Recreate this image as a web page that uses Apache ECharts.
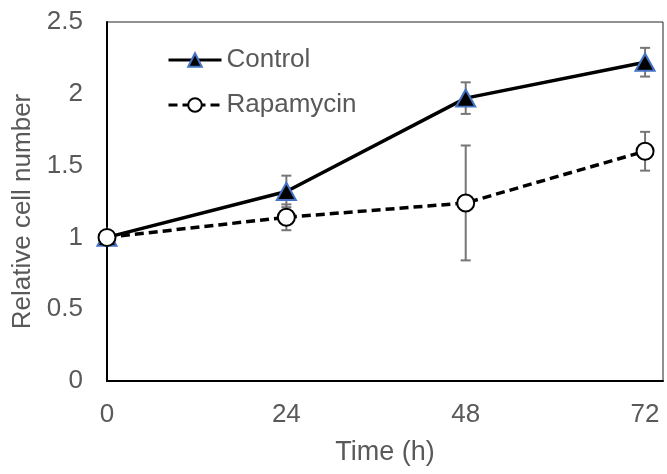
<!DOCTYPE html>
<html>
<head>
<meta charset="utf-8">
<script src="https://cdn.jsdelivr.net/npm/echarts@6/dist/echarts.min.js"></script>
<style>
  html, body { margin: 0; padding: 0; background: #fff; }
  #chart { width: 667px; height: 474px; }
</style>
</head>
<body>
<div id="chart"></div>
<script>
// data
const hours = [0, 24, 48, 72];
const controlMean = [1.0, 1.32, 1.97, 2.22];
const controlErr = [0.0, 0.11, 0.11, 0.1];
const rapaMean = [1.0, 1.14, 1.24, 1.6];
const rapaErr = [0.0, 0.09, 0.4, 0.135];

const gray = '#595959';
const font = 'Liberation Sans, Arial, sans-serif';

const toPairs = (xs, ys) => xs.map((x, i) => [x, ys[i]]);
const toErr = (xs, ys, es) => xs.map((x, i) => [x, ys[i] - es[i], ys[i] + es[i]]);

// 误差线
const errorBars = (data) => ({
  type: 'custom',
  z: 1,
  silent: true,
  data: data,
  renderItem: (params, api) => {
    const lo = api.coord([api.value(0), api.value(1)]);
    const hi = api.coord([api.value(0), api.value(2)]);
    if (Math.abs(hi[1] - lo[1]) < 1) return null;
    const w = 5;
    const style = { stroke: '#767676', lineWidth: 2, fill: null };
    return {
      type: 'group',
      children: [
        { type: 'line', shape: { x1: lo[0], y1: lo[1], x2: hi[0], y2: hi[1] }, style },
        { type: 'line', shape: { x1: lo[0] - w, y1: lo[1], x2: lo[0] + w, y2: lo[1] }, style },
        { type: 'line', shape: { x1: hi[0] - w, y1: hi[1], x2: hi[0] + w, y2: hi[1] }, style }
      ]
    };
  }
});

const chart = echarts.init(document.getElementById('chart'));
chart.setOption({
  animation: false,
  textStyle: { fontFamily: font },
  grid: {
    left: 107, right: 4, top: 22, bottom: 93,
    show: true, borderColor: '#222', borderWidth: 1
  },
  legend: {
    left: 162, top: 42, orient: 'vertical',
    itemWidth: 53, itemHeight: 17, itemGap: 19,
    lineStyle: { width: 3 },
    textStyle: { fontSize: 26, lineHeight: 26, color: gray, fontFamily: font },
    data: ['Control', 'Rapamycin']
  },
  xAxis: {
    type: 'value', min: 0, max: 74.4, interval: 24,
    name: 'Time (h)', nameLocation: 'middle', nameGap: 58,
    nameTextStyle: { fontSize: 27, color: gray },
    axisLine: { lineStyle: { color: '#000', width: 2 } },
    axisTick: { show: false },
    splitLine: { show: false },
    axisLabel: { fontSize: 26, color: gray, margin: 21, showMaxLabel: false }
  },
  yAxis: {
    type: 'value', min: 0, max: 2.5, interval: 0.5,
    name: 'Relative cell number', nameLocation: 'middle', nameGap: 69,
    nameTextStyle: { fontSize: 26, color: gray, padding: [0, 20, 0, 0] },
    axisLine: { show: true, lineStyle: { color: '#000', width: 2 } },
    axisTick: { show: false },
    splitLine: { show: false },
    axisLabel: { fontSize: 26, color: gray, margin: 24 }
  },
  series: [
    errorBars(toErr(hours, controlMean, controlErr)),
    errorBars(toErr(hours, rapaMean, rapaErr)),
    {
      name: 'Control', type: 'line', z: 3,
      data: toPairs(hours, controlMean),
      symbol: 'triangle', symbolSize: [19, 17],
      lineStyle: { color: '#000', width: 3.5 },
      itemStyle: { color: '#000', borderColor: '#4472C4', borderWidth: 2 }
    },
    {
      name: 'Rapamycin', type: 'line', z: 4,
      data: toPairs(hours, rapaMean),
      symbol: 'circle', symbolSize: 17,
      lineStyle: { color: '#000', width: 3.5, type: [9, 5] },
      itemStyle: { color: '#fff', borderColor: '#000', borderWidth: 2 }
    }
  ]
});
</script>
</body>
</html>
